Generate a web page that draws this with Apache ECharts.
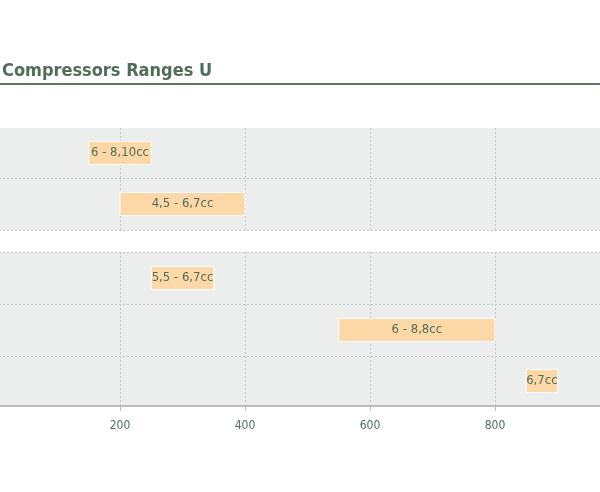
<!DOCTYPE html>
<html>
<head>
<meta charset="utf-8">
<script src="https://cdn.jsdelivr.net/npm/echarts@6/dist/echarts.min.js"></script>
<style>html,body{margin:0;padding:0;background:#fff}#chart{width:600px;height:492px}</style>
</head>
<body>
<div id="chart"></div>
<script>
// ranges (cc) per row
const rangeStart = [150, 200, 250, 550, 850];
const rangeEnd = [250, 400, 350, 800, 900];
const rangeLabels = ['6 - 8,10cc', '4,5 - 6,7cc', '5,5 - 6,7cc', '6 - 8,8cc', '6,7cc'];
// row bands on the vertical scale (top, bottom)
const rowTop = [0, 50, 124, 176, 228];
const rowBottom = [50, 102, 176, 228, 278];
const gapBand = [102, 124];

const chart = echarts.init(document.getElementById('chart'));
const green = '#4f6e5a';
const font = '"DejaVu Sans Condensed", "Liberation Sans Narrow", sans-serif';

const data = rangeStart.map((s, i) => [s, rangeEnd[i], rowTop[i], rowBottom[i], rangeLabels[i]]);
const lines = [50, 102, 124, 176, 228].map(v => ({ yAxis: v }));

chart.setOption({
    title: {
        text: 'Compressors Ranges U',
        left: -3, top: 57,
        textStyle: { fontFamily: font, fontSize: 18, fontWeight: 'bold', color: green }
    },
    graphic: [{
        type: 'line', shape: { x1: 0, y1: 84, x2: 600, y2: 84 },
        style: { stroke: '#5e7a66', lineWidth: 2 }
    }],
    grid: {
        left: -5, right: -20, top: 128, bottom: 86,
        containLabel: false, outerBoundsMode: 'none',
        show: true, backgroundColor: '#eceeed', borderWidth: 0
    },
    xAxis: {
        type: 'value', min: 0, max: 1000, interval: 200, position: 'bottom',
        axisLine: { show: true, onZero: false, lineStyle: { color: '#bbbbbb', width: 2 } },
        axisTick: { show: true, length: 5, lineStyle: { color: '#bbbbbb' } },
        axisLabel: { color: green, fontSize: 12, margin: 14, fontFamily: font },
        splitLine: { show: true, lineStyle: { type: [2, 2], color: '#c4c4c4' } }
    },
    yAxis: {
        type: 'value', min: 0, max: 278, inverse: true,
        axisLine: { show: false }, axisTick: { show: false }, axisLabel: { show: false }, splitLine: { show: false }
    },
    series: [{
        type: 'custom',
        data: data,
        encode: { x: [0, 1], y: [2, 3] },
        renderItem: function (params, api) {
            const p0 = api.coord([api.value(0), api.value(2)]);
            const p1 = api.coord([api.value(1), api.value(3)]);
            const mid = (p0[1] + p1[1]) / 2;
            const h = 23;
            return {
                type: 'rect',
                shape: { x: p0[0], y: mid - h / 2, width: p1[0] - p0[0], height: h },
                style: { fill: '#fbd8a6', stroke: '#ffffff', lineWidth: 1 },
                textContent: {
                    style: { text: api.value(4), fill: green, fontSize: 13, fontFamily: font }
                },
                textConfig: { position: 'inside' },
                z2: 10
            };
        },
        markArea: {
            silent: true,
            itemStyle: { color: '#ffffff' },
            data: [[{ yAxis: gapBand[0] }, { yAxis: gapBand[1] }]]
        },
        markLine: {
            silent: true, symbol: 'none', label: { show: false },
            lineStyle: { type: [2, 2], color: '#c4c4c4', width: 1 },
            data: lines
        }
    }]
});
</script>
</body>
</html>
